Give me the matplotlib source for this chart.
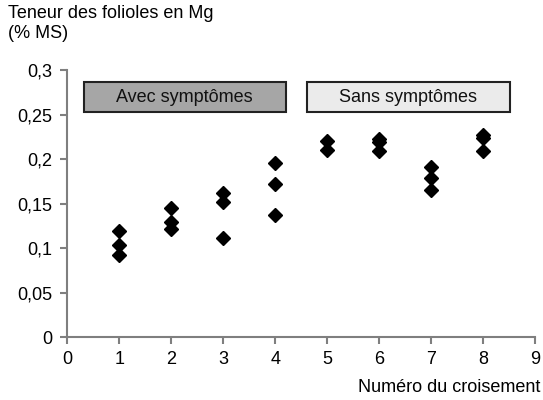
import matplotlib
matplotlib.use("Agg")
import matplotlib.pyplot as plt
from matplotlib.patches import Rectangle

plt.rcParams['font.family'] = ['Liberation Sans', 'DejaVu Sans']

crossings = [1, 1, 1, 2, 2, 2, 3, 3, 3, 4, 4, 4, 5, 5, 6, 6, 6, 7, 7, 7, 8, 8, 8]
mg_content = [0.119, 0.104, 0.093, 0.145, 0.130, 0.122, 0.162, 0.152, 0.112,
              0.196, 0.172, 0.137, 0.221, 0.211, 0.223, 0.220, 0.209,
              0.191, 0.179, 0.166, 0.2275, 0.2245, 0.209]
x_ticks = list(range(0, 10))
y_ticks = [0, 0.05, 0.1, 0.15, 0.2, 0.25, 0.3]
y_tick_labels = ['0', '0,05', '0,1', '0,15', '0,2', '0,25', '0,3']
groups = ['Avec symptômes', 'Sans symptômes']
group_spans = [(0.32, 4.2), (4.615, 8.51)]
group_colors = ['#a6a6a6', '#ebebeb']

fig = plt.figure(figsize=(5.43, 4.0), dpi=100)
ax = fig.add_axes([0.1239, 0.1568, 0.8613, 0.667])

ax.plot(crossings, mg_content, linestyle='none', marker='D', markersize=6.8,
        color='black', zorder=3)

ax.set_xlim(0, 9)
ax.set_ylim(0, 0.3)
ax.set_xticks(x_ticks)
ax.set_xticklabels([str(t) for t in x_ticks])
ax.set_yticks(y_ticks)
ax.set_yticklabels(y_tick_labels)

for s in ['top', 'right']:
    ax.spines[s].set_visible(False)
for s in ['left', 'bottom']:
    ax.spines[s].set_color('#7f7f7f')
    ax.spines[s].set_linewidth(1.5)
ax.tick_params(axis='both', colors='#7f7f7f', width=1.5, length=5,
               labelsize=13, labelcolor='black')
ax.tick_params(axis='x', pad=5)
ax.tick_params(axis='y', pad=6)

y0, y1 = 0.253, 0.2868
for name, (a, b), c in zip(groups, group_spans, group_colors):
    ax.add_patch(Rectangle((a, y0), b - a, y1 - y0, facecolor=c,
                           edgecolor='#222222', linewidth=1.5, zorder=2))
    ax.text((a + b) / 2, (y0 + y1) / 2, name, ha='center', va='center',
            fontsize=13, color='#111111', zorder=4)

fig.text(8 / 543, 1 - 5 / 400, 'Teneur des folioles en Mg\n(% MS)',
         ha='left', va='top', fontsize=13, linespacing=1.2)
fig.text(540 / 543, 1 - 388 / 400, 'Numéro du croisement', ha='right',
         va='center', fontsize=13)

fig.savefig('out.png', dpi=100)
